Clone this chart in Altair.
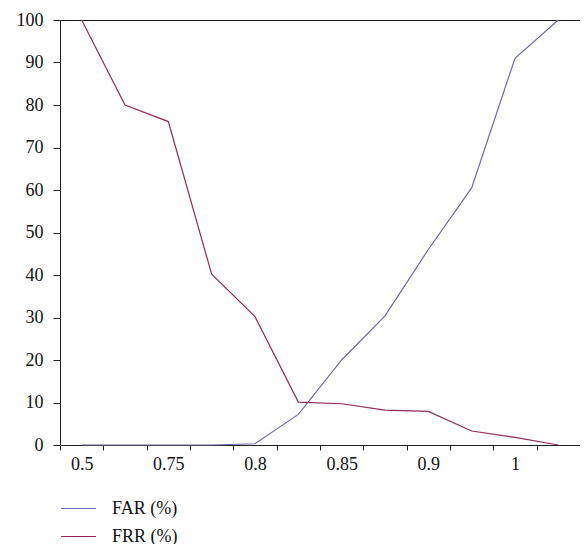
import altair as alt
import pandas as pd

thresholds = ["0.5", "0.7", "0.75", "0.775", "0.8", "0.825", "0.85", "0.875", "0.9", "0.95", "1", "1.05"]
shown_labels = ["0.5", "0.75", "0.8", "0.85", "0.9", "1"]
far = [0, 0, 0, 0, 0.3, 7.2, 20, 30.4, 46, 60.5, 91, 100]
frr = [100, 80, 76.1, 40.2, 30.2, 10.1, 9.7, 8.2, 7.9, 3.3, 1.8, 0]
series = ["FAR (%)", "FRR (%)"]
colors = ["#6b6ba6", "#932a5b"]

rows = []
for i, t in enumerate(thresholds):
    rows.append({"t": t, "v": far[i], "s": series[0], "o": i})
    rows.append({"t": t, "v": frr[i], "s": series[1], "o": i})
df = pd.DataFrame(rows)

FONT = "Liberation Serif"
FS = 18
label_expr = "indexof(" + str(shown_labels).replace("'", "\"") + ", datum.label) >= 0 ? datum.label : ''"

chart = alt.Chart(df).mark_line(strokeWidth=1.2).encode(
    x=alt.X("t:N", sort=thresholds, bandPosition=0.5,
            scale=alt.Scale(type="band", paddingInner=0, paddingOuter=0),
            axis=alt.Axis(title=None, labelAngle=0, tickBand="extent", labelExpr=label_expr,
                          domainColor="#222", tickColor="#222", tickSize=5, labelPadding=5,
                          labelFont=FONT, labelFontSize=FS, labelColor="#111", grid=False)),
    y=alt.Y("v:Q", scale=alt.Scale(domain=[0, 100], nice=False),
            axis=alt.Axis(title=None, values=list(range(0, 101, 10)), domainColor="#222",
                          tickColor="#222", tickSize=7, labelPadding=10,
                          labelFont=FONT, labelFontSize=FS, labelColor="#111", grid=False)),
    color=alt.Color("s:N", scale=alt.Scale(domain=series, range=colors),
                    legend=alt.Legend(title=None, orient="none", legendX=0, legendY=470,
                                      direction="vertical", symbolType="stroke",
                                      symbolSize=1225, symbolStrokeWidth=1.2, padding=0,
                                      labelFont=FONT, labelFontSize=FS, labelColor="#111",
                                      labelOffset=15, rowPadding=-10)),
    detail="s:N",
    order="o:Q",
).properties(
    width=520, height=425,
    autosize=alt.AutoSizeParams(type="none"),
    padding={"left": 52, "top": 12, "right": 0, "bottom": 99},
).configure_view(stroke="#222", strokeWidth=1)

chart.save("out.html", embed_options={"renderer": "svg", "actions": False})
